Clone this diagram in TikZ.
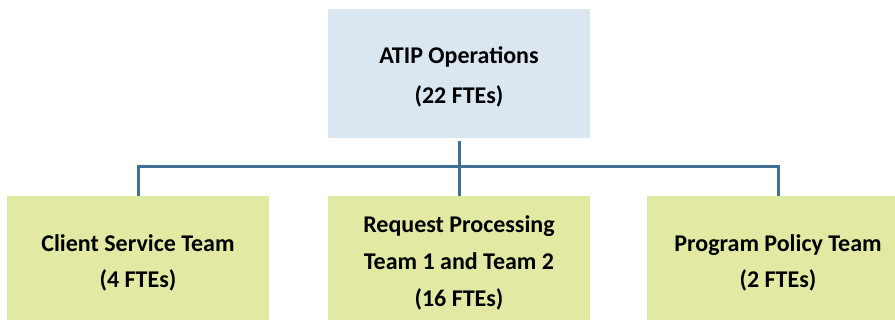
\documentclass[tikz,border=0pt]{standalone}
\usepackage{fontspec}
\setmainfont{Carlito}
\definecolor{topfill}{HTML}{DAE7F0}
\definecolor{teamfill}{HTML}{E2E9A2}
\definecolor{linecol}{HTML}{3F6F94}
\tikzset{
  box/.style={draw=none, minimum width=262*0.75pt, inner sep=0pt},
  topbox/.style={box, fill=topfill, minimum height=129*0.75pt},
  teambox/.style={box, fill=teamfill, minimum height=124*0.75pt},
  boxtext/.style={align=center, inner sep=0pt, font=\fontsize{18}{27.5}\selectfont\bfseries},
  conn/.style={draw=linecol, line width=2.25pt}
}
\begin{document}
\begin{tikzpicture}[x=0.75pt, y=-0.75pt]
\clip (0,0) rectangle (895,320);
\node[topbox] (top) at (459,73.5) {};
\node[teambox] (left) at (138,258) {};
\node[teambox] (mid) at (459,258) {};
\node[teambox] (right) at (778,258) {};
\node[boxtext, font=\fontsize{18}{29.5}\selectfont\bfseries, yshift=-2.5pt] (toptext) at (top.center) {ATIP Operations\\(22 FTEs)};
\node[boxtext, yshift=-3.75pt] (lefttext) at (left.center) {Client Service Team\\(4 FTEs)};
\node[boxtext, yshift=-3.75pt] (midtext) at (mid.center) {Request Processing\\Team 1 and Team 2\\(16 FTEs)};
\node[boxtext, yshift=-3.75pt] (righttext) at (right.center) {Program Policy Team\\(2 FTEs)};
\coordinate (bus) at (459,167);
\draw[conn] ([yshift=-2pt]top.south) -- (mid.north);
\draw[conn] (bus) -| (left.north);
\draw[conn] (bus) -| (right.north);
\end{tikzpicture}
\end{document}
